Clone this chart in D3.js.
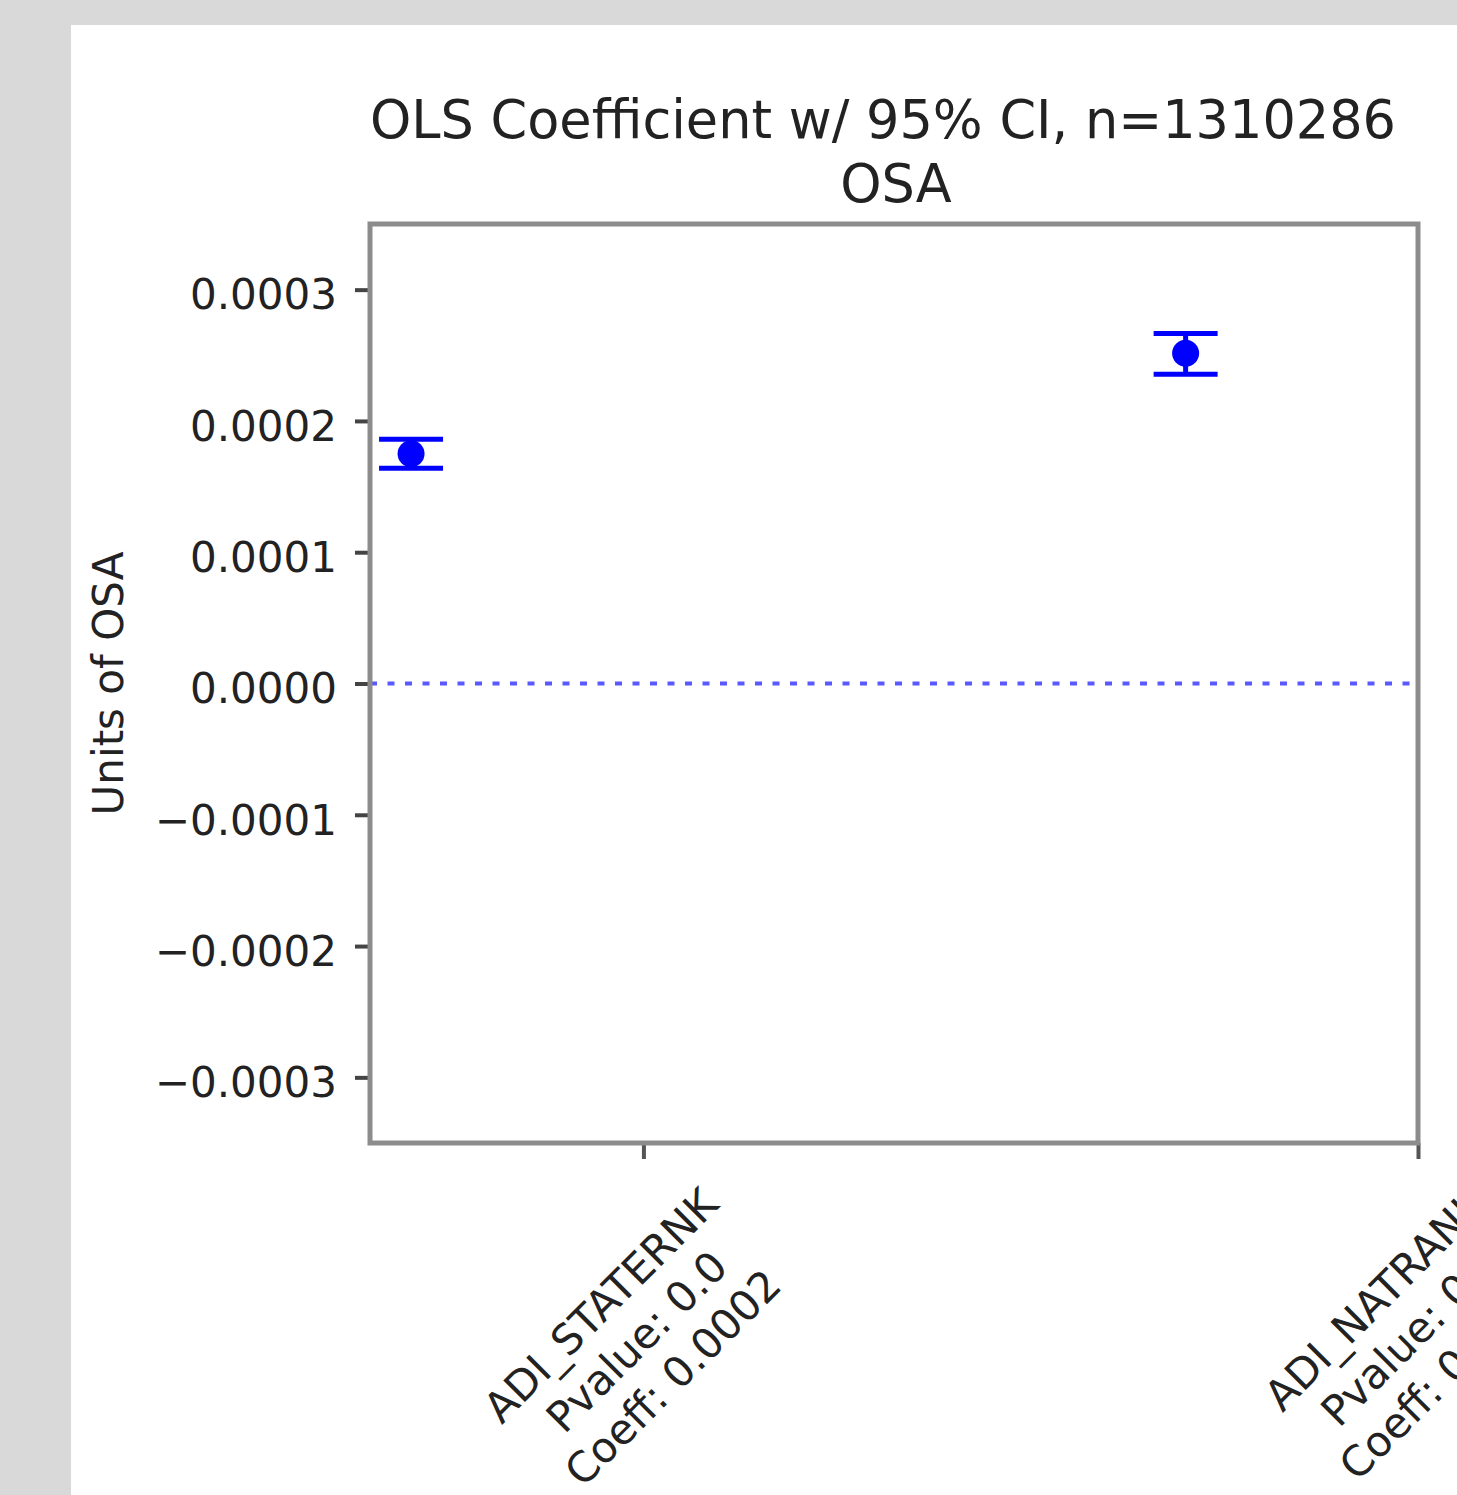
<!DOCTYPE html>
<html>
<head>
<meta charset="utf-8">
<script src="https://cdn.jsdelivr.net/npm/d3@7"></script>
<style>
  html, body { margin: 0; padding: 0; background: #d9d9d9; }
  svg { display: block; }
  text { font-family: "DejaVu Sans", sans-serif; fill: #222; }
</style>
</head>
<body>
<svg id="chart" width="1457" height="1495"></svg>
<script>
// Regression terms, point estimates and 95% confidence bounds
const terms = ["ADI_STATERNK", "ADI_NATRANK"];
const pvalues = ["0.0", "0.0"];
const coefLabels = ["0.0002", "0.0003"];
const coefs = [0.000175, 0.0002515];
const ciLower = [0.000164, 0.0002355];
const ciUpper = [0.000186, 0.0002665];
const yTicks = [0.0003, 0.0002, 0.0001, 0, -0.0001, -0.0002, -0.0003];
const titleLines = ["OLS Coefficient w/ 95% CI, n=1310286", "OSA"];
const yLabel = "Units of OSA";
// category ticks sit a fixed offset to the right of each estimate
const tickOffset = 0.3;

const W = 1457, H = 1495;
const plot = { left: 370, right: 1418, top: 224, bottom: 1143 };

const svg = d3.select("#chart");

// white figure panel on grey page
svg.append("rect").attr("x", 0).attr("y", 0).attr("width", W).attr("height", H).attr("fill", "#d9d9d9");
svg.append("rect").attr("x", 71).attr("y", 25).attr("width", W - 71).attr("height", H - 25).attr("fill", "#ffffff");

const x = d3.scaleLinear().domain([-0.053, 1.3]).range([plot.left, plot.right]);
const y = d3.scaleLinear().domain([-0.00035, 0.00035]).range([plot.bottom, plot.top]);

const fmt = v => {
  const s = Math.abs(v).toFixed(4);
  return v < 0 ? "\u2212" + s : s;
};

// y axis
const yAxis = d3.axisLeft(y).tickValues(yTicks).tickFormat(fmt).tickSize(15).tickPadding(18);
const gy = svg.append("g").attr("transform", `translate(${plot.left},0)`).call(yAxis);
gy.select(".domain").remove();
gy.selectAll(".tick line").attr("stroke", "#444").attr("stroke-width", 4);
gy.selectAll(".tick text")
  .style("font-family", "DejaVu Sans, sans-serif")
  .style("font-size", "42px")
  .attr("fill", "#222")
  .attr("dy", "0.72em")
  .attr("y", -11);

// zero reference line
svg.append("line")
  .attr("x1", plot.left).attr("x2", plot.right)
  .attr("y1", y(0)).attr("y2", y(0))
  .attr("stroke", "#0000ff").attr("stroke-opacity", 0.65)
  .attr("stroke-width", 4)
  .attr("stroke-dasharray", "7 10.5");

// x axis ticks
const xTickVals = terms.map((d, i) => i + tickOffset);
const xAxis = d3.axisBottom(x).tickValues(xTickVals).tickFormat("").tickSize(16);
const gx = svg.append("g").attr("transform", `translate(0,${plot.bottom})`).call(xAxis);
gx.select(".domain").remove();
gx.selectAll(".tick line").attr("stroke", "#555").attr("stroke-width", 4);

// error bars with caps and point markers
const capHalf = 32;
const eb = svg.append("g").selectAll("g").data(terms).join("g");
eb.append("line")
  .attr("x1", (d, i) => x(i)).attr("x2", (d, i) => x(i))
  .attr("y1", (d, i) => y(ciLower[i])).attr("y2", (d, i) => y(ciUpper[i]))
  .attr("stroke", "#0000ff").attr("stroke-width", 5);
[ciLower, ciUpper].forEach(arr => {
  eb.append("line")
    .attr("x1", (d, i) => x(i) - capHalf).attr("x2", (d, i) => x(i) + capHalf)
    .attr("y1", (d, i) => y(arr[i])).attr("y2", (d, i) => y(arr[i]))
    .attr("stroke", "#0000ff").attr("stroke-width", 5);
});
eb.append("circle")
  .attr("cx", (d, i) => x(i)).attr("cy", (d, i) => y(coefs[i]))
  .attr("r", 13.5).attr("fill", "#0000ff");

// axes frame
svg.append("rect")
  .attr("x", plot.left).attr("y", plot.top)
  .attr("width", plot.right - plot.left).attr("height", plot.bottom - plot.top)
  .attr("fill", "none").attr("stroke", "#8c8c8c").attr("stroke-width", 5);

// rotated multi-line category labels
const labelTop = 1178;
const lineH = 51;
terms.forEach((t, i) => {
  const tx = x(i + tickOffset);
  const g = svg.append("g");
  const inner = g.append("g").attr("transform", "rotate(-45)");
  const lines = [t, "Pvalue: " + pvalues[i], "Coeff: " + coefLabels[i]];
  const txt = inner.append("text")
    .attr("text-anchor", "middle")
    .style("font-size", "42px");
  lines.forEach((l, k) => {
    txt.append("tspan").attr("x", 0).attr("y", k * lineH).text(l);
  });
  g.attr("transform", "translate(0,0)");
  const r = g.node().getBoundingClientRect();
  const dx = tx - 6 - (r.left + r.right) / 2;
  const dy = labelTop - r.top;
  g.attr("transform", `translate(${dx},${dy})`);
});

// y axis label
svg.append("text")
  .attr("transform", `translate(123,${(plot.top + plot.bottom) / 2}) rotate(-90)`)
  .attr("text-anchor", "middle")
  .style("font-size", "42px")
  .text(yLabel);

// title
const cx = (plot.left + plot.right) / 2 - 6;
titleLines.forEach((l, k) => {
  svg.append("text")
    .attr("x", k === 0 ? cx - 5 : cx + 8).attr("y", 138 + k * 64)
    .attr("text-anchor", "middle")
    .style("font-size", "52.5px")
    .text(l);
});
</script>
</body>
</html>
